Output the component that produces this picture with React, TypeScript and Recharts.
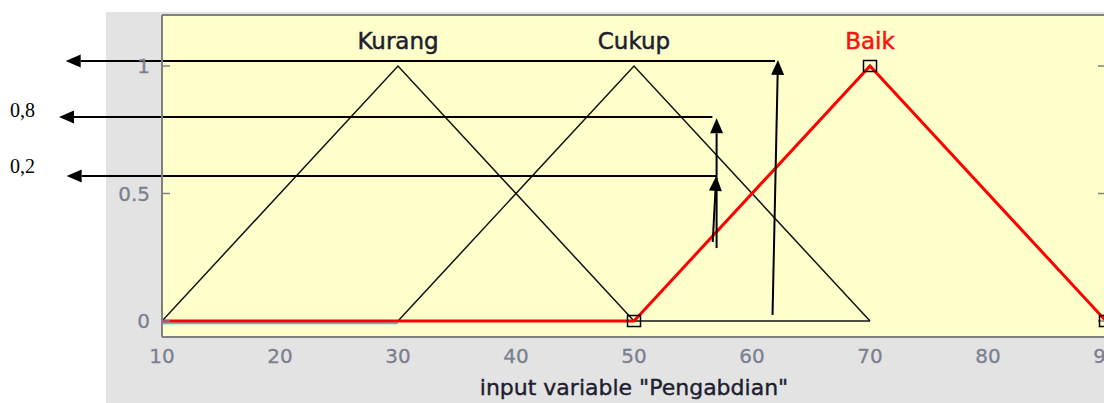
import React from 'react';
import {
  ComposedChart,
  Line,
  XAxis,
  YAxis,
  CartesianGrid,
  ReferenceLine,
  ReferenceDot,
  Scatter,
} from 'recharts';

// ---- data ----
const xTicks = [10, 20, 30, 40, 50, 60, 70, 80, 90];
const yTicks = [0, 0.5, 1];

const kurang = [
  { x: 10, y: 0 },
  { x: 30, y: 1 },
  { x: 50, y: 0 },
];
const cukup = [
  { x: 30, y: 0 },
  { x: 50, y: 1 },
  { x: 70, y: 0 },
];
const cukupBase = [
  { x: 50, y: 0 },
  { x: 70, y: 0 },
];
const baik = [
  { x: 10, y: 0 },
  { x: 50, y: 0 },
  { x: 70, y: 1 },
  { x: 90, y: 0 },
];
const cyanSeg = [
  { x: 10, y: -0.009 },
  { x: 30, y: -0.009 },
];
const vertexMarks = [
  { x: 50, y: 0 },
  { x: 70, y: 1 },
  { x: 90, y: 0 },
];

const mfNames = ['Kurang', 'Cukup', 'Baik'];
const mfPeaks = [30, 50, 70];
const mfColors = ['#1e1e30', '#1e1e30', '#ff1010'];

// annotation arrows (data coordinates): from -> to (tip)
const arrows = [
  { x1: 61.95, y1: 1.02, x2: 1.84, y2: 1.02 },
  { x1: 61.74, y1: 0.024, x2: 62.2, y2: 1.024 },
  { x1: 56.64, y1: 0.8, x2: 1.27, y2: 0.8 },
  { x1: 57.0, y1: 0.286, x2: 57.0, y2: 0.795 },
  { x1: 56.67, y1: 0.31, x2: 56.97, y2: 0.569 },
  { x1: 57.0, y1: 0.569, x2: 1.92, y2: 0.569 },
];
const notes = [
  { x: -2.88, y: 0.801, text: '0,8' },
  { x: -2.88, y: 0.579, text: '0,2' },
];

// ---- rendering helpers ----
const FONT = '"DejaVu Sans", Verdana, sans-serif';
const AXIS_GREY = '#808080';
const TICK_TEXT = '#7c7f90';

const EmptyTick = () => <g />;

const ArrowShape = (p: any) => {
  const { x1, y1, x2, y2 } = p;
  const dx = x2 - x1;
  const dy = y2 - y1;
  const len = Math.hypot(dx, dy) || 1;
  const ux = dx / len;
  const uy = dy / len;
  const L = 15;
  const W = 6.5;
  const bx = x2 - ux * L;
  const by = y2 - uy * L;
  const pts = `${x2},${y2} ${bx - uy * W},${by + ux * W} ${bx + uy * W},${by - ux * W}`;
  return (
    <g>
      <line x1={x1} y1={y1} x2={bx} y2={by} stroke="#000" strokeWidth={2} />
      <polygon points={pts} fill="#000" />
    </g>
  );
};

const SquareShape = (p: any) => {
  const { cx, cy } = p;
  if (cx == null || cy == null) return <g />;
  return (
    <rect x={cx - 6.5} y={cy - 5.5} width={13} height={11} fill="none" stroke="#000" strokeWidth={1.5} />
  );
};

export default function App() {
  return (
    <div
      style={{
        position: 'absolute',
        left: 0,
        top: 0,
        width: 1104,
        height: 403,
        overflow: 'hidden',
        background: '#ffffff',
      }}
    >
      <div
        style={{
          position: 'absolute',
          left: 106,
          top: 12,
          right: 0,
          bottom: 0,
          background: '#e3e3e3',
        }}
      />
      <div style={{ position: 'absolute', left: 0, top: 0 }}>
        <ComposedChart
          width={1120}
          height={403}
          margin={{ top: 15, right: 14, left: 0, bottom: 0 }}
        >
          <CartesianGrid horizontal={false} vertical={false} fill="#ffffcc" stroke="none" />
          <XAxis
            xAxisId={0}
            type="number"
            dataKey="x"
            domain={[10, 90]}
            ticks={xTicks}
            allowDataOverflow
            height={66}
            tickLine={false}
            tickSize={6}
            tickMargin={6}
            axisLine={{ stroke: AXIS_GREY, strokeWidth: 2 }}
            tick={{ fill: TICK_TEXT, fontSize: 20, fontFamily: FONT, stroke: TICK_TEXT, strokeWidth: 0.3 }}
            label={{
              value: 'input variable "Pengabdian"',
              position: 'insideBottom',
              offset: 8,
              fill: '#1e1e30',
              stroke: '#1e1e30',
              strokeWidth: 0.4,
              fontSize: 22,
              fontFamily: FONT,
            }}
          />
          <XAxis
            xAxisId="bin"
            orientation="bottom"
            mirror
            type="number"
            domain={[10, 90]}
            ticks={xTicks}
            allowDataOverflow
            tickSize={8}
            tickLine={{ stroke: AXIS_GREY, strokeWidth: 1.5 }}
            axisLine={false}
            tick={EmptyTick}
          />
          <XAxis
            xAxisId="top"
            orientation="top"
            mirror
            type="number"
            domain={[10, 90]}
            ticks={xTicks}
            allowDataOverflow
            tickSize={7}
            tickLine={{ stroke: AXIS_GREY, strokeWidth: 1.5 }}
            axisLine={{ stroke: AXIS_GREY, strokeWidth: 2 }}
            tick={EmptyTick}
          />
          <YAxis
            yAxisId={0}
            type="number"
            dataKey="y"
            domain={[-0.0627, 1.2]}
            ticks={yTicks}
            allowDataOverflow
            width={162}
            tickLine={false}
            tickSize={6}
            tickMargin={6}
            axisLine={{ stroke: AXIS_GREY, strokeWidth: 2 }}
            tick={{ fill: TICK_TEXT, fontSize: 20, fontFamily: FONT, stroke: TICK_TEXT, strokeWidth: 0.3 }}
          />
          <YAxis
            yAxisId="lin"
            orientation="left"
            mirror
            type="number"
            domain={[-0.0627, 1.2]}
            ticks={yTicks}
            allowDataOverflow
            tickSize={8}
            tickLine={{ stroke: AXIS_GREY, strokeWidth: 1.5 }}
            axisLine={false}
            tick={EmptyTick}
          />
          <YAxis
            yAxisId="right"
            orientation="right"
            mirror
            type="number"
            domain={[-0.0627, 1.2]}
            ticks={yTicks}
            allowDataOverflow
            tickSize={8}
            tickLine={{ stroke: AXIS_GREY, strokeWidth: 1.5 }}
            axisLine={{ stroke: AXIS_GREY, strokeWidth: 2 }}
            tick={EmptyTick}
          />

          <Line data={cyanSeg} dataKey="y" stroke="#30d0c0" strokeWidth={2} dot={false} activeDot={false} isAnimationActive={false} />
          <Line data={kurang} dataKey="y" stroke="#111" strokeWidth={1.5} dot={false} activeDot={false} isAnimationActive={false} />
          <Line data={cukup} dataKey="y" stroke="#111" strokeWidth={1.5} dot={false} activeDot={false} isAnimationActive={false} />
          <Line data={cukupBase} dataKey="y" stroke="#111" strokeWidth={1.6} dot={false} activeDot={false} isAnimationActive={false} />
          <Line data={baik} dataKey="y" stroke="#ff0000" strokeWidth={3} dot={false} activeDot={false} isAnimationActive={false} />
          <Scatter data={vertexMarks} dataKey="y" shape={SquareShape} isAnimationActive={false} />

          {mfNames.map((name, i) => (
            <ReferenceDot
              key={name}
              x={mfPeaks[i]}
              y={1.067}
              ifOverflow="visible"
              shape={(p: any) => (
                <text
                  x={p.cx}
                  y={p.cy}
                  textAnchor="middle"
                  fill={mfColors[i]}
                  stroke={mfColors[i]}
                  strokeWidth={0.5}
                  fontSize={23}
                  fontFamily={FONT}
                >
                  {name}
                </text>
              )}
            />
          ))}

          {arrows.map((a, i) => (
            <ReferenceLine
              key={'arr' + i}
              segment={[
                { x: a.x1, y: a.y1 },
                { x: a.x2, y: a.y2 },
              ]}
              ifOverflow="visible"
              shape={ArrowShape}
            />
          ))}

          {notes.map((n) => (
            <ReferenceDot
              key={n.text}
              x={n.x}
              y={n.y}
              ifOverflow="visible"
              shape={(p: any) => (
                <text
                  x={p.cx}
                  y={p.cy}
                  textAnchor="start"
                  fill="#000"
                  fontSize={20}
                  fontFamily='"Liberation Serif", "Times New Roman", serif'
                >
                  {n.text}
                </text>
              )}
            />
          ))}
        </ComposedChart>
      </div>
    </div>
  );
}
